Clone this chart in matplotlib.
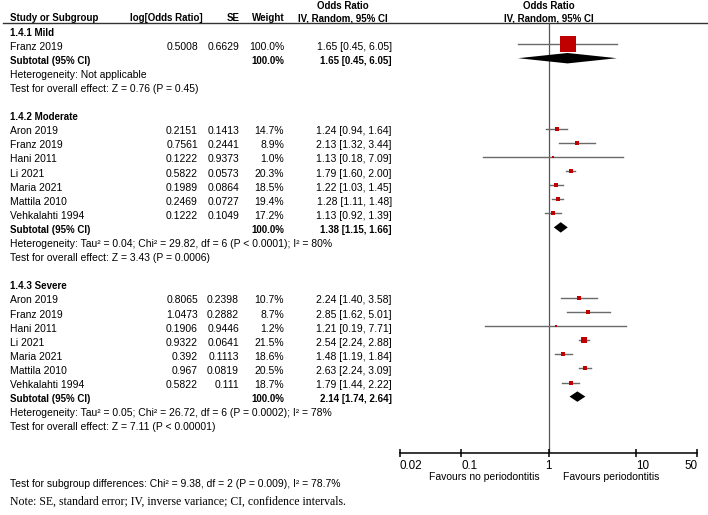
# =========================================================
#        FOREST PLOT - ODDS RATIO BY PERIODONTITIS STAGE
# =========================================================

import numpy as np
import matplotlib.pyplot as plt
from matplotlib.transforms import blended_transform_factory
from matplotlib.lines import Line2D

plt.rcParams["font.family"] = ["Liberation Sans", "DejaVu Sans"]

# =========================================================
# DATA
# =========================================================

group_titles = ["1.4.1 Mild", "1.4.2 Moderate", "1.4.3 Severe"]

mild_names = ["Franz 2019"]
mild_logor = ["0.5008"]
mild_se = ["0.6629"]
mild_weight = [100.0]
mild_or = [1.65]
mild_lo = [0.45]
mild_hi = [6.05]

moderate_names = ["Aron 2019", "Franz 2019", "Hani 2011", "Li 2021",
                  "Maria 2021", "Mattila 2010", "Vehkalahti 1994"]
moderate_logor = ["0.2151", "0.7561", "0.1222", "0.5822",
                  "0.1989", "0.2469", "0.1222"]
moderate_se = ["0.1413", "0.2441", "0.9373", "0.0573",
               "0.0864", "0.0727", "0.1049"]
moderate_weight = [14.7, 8.9, 1.0, 20.3, 18.5, 19.4, 17.2]
moderate_or = [1.24, 2.13, 1.13, 1.79, 1.22, 1.28, 1.13]
moderate_lo = [0.94, 1.32, 0.18, 1.60, 1.03, 1.11, 0.92]
moderate_hi = [1.64, 3.44, 7.09, 2.00, 1.45, 1.48, 1.39]

severe_names = ["Aron 2019", "Franz 2019", "Hani 2011", "Li 2021",
                "Maria 2021", "Mattila 2010", "Vehkalahti 1994"]
severe_logor = ["0.8065", "1.0473", "0.1906", "0.9322",
                "0.392", "0.967", "0.5822"]
severe_se = ["0.2398", "0.2882", "0.9446", "0.0641",
             "0.1113", "0.0819", "0.111"]
severe_weight = [10.7, 8.7, 1.2, 21.5, 18.6, 20.5, 18.7]
severe_or = [2.24, 2.85, 1.21, 2.54, 1.48, 2.63, 1.79]
severe_lo = [1.40, 1.62, 0.19, 2.24, 1.19, 2.24, 1.44]
severe_hi = [3.58, 5.01, 7.71, 2.88, 1.84, 3.09, 2.22]

# subtotal: OR, lower, upper
subtotal_or = [1.65, 1.38, 2.14]
subtotal_lo = [0.45, 1.15, 1.74]
subtotal_hi = [6.05, 1.66, 2.64]

heterogeneity = [
    "Heterogeneity: Not applicable",
    "Heterogeneity: Tau² = 0.04; Chi² = 29.82, df = 6 (P < 0.0001); I² = 80%",
    "Heterogeneity: Tau² = 0.05; Chi² = 26.72, df = 6 (P = 0.0002); I² = 78%",
]
overall = [
    "Test for overall effect: Z = 0.76 (P = 0.45)",
    "Test for overall effect: Z = 3.43 (P = 0.0006)",
    "Test for overall effect: Z = 7.11 (P < 0.00001)",
]

tick_values = [0.02, 0.1, 1, 10, 50]
tick_labels = ["0.02", "0.1", "1", "10", "50"]

subgroup_test = "Test for subgroup differences: Chi² = 9.38, df = 2 (P = 0.009), I² = 78.7%"
note = "Note: SE, standard error; IV, inverse variance; CI, confidence intervals."

# =========================================================
# LAYOUT
# =========================================================

W, H = 708, 515
ROW0 = 30.0       # pixel y of row 0
STEP = 14.1       # pixel per row
FS = 7.5
FS_B = 7.0
TXT = 0.18
RED = "#C00000"
GRAY = "#6a6a6a"

X_NAME = 10
X_LOGOR = 198
X_SE = 239
X_W = 284
X_CI = 392


def row_px(r):

    return ROW0 + STEP * r


fig = plt.figure(figsize=(W / 100, H / 100), dpi=100)

top_r, bot_r = -0.5, 30
ax = fig.add_axes([
    400 / W,
    1 - row_px(bot_r) / H,
    297 / W,
    (row_px(bot_r) - row_px(top_r)) / H,
])

ax.set_xscale("log")
ax.set_xlim(0.02, 50)
ax.set_ylim(bot_r, top_r)

tr = blended_transform_factory(fig.transFigure, ax.transData)


def put(xpx, r, s, ha="left", bold=False, **kw):

    ax.text(xpx / W, r + TXT, s, transform=tr, ha=ha, va="center",
            fontsize=FS_B if bold else FS,
            fontweight="bold" if bold else "normal",
            color="black", **kw)

# =========================================================
# HEADER
# =========================================================

put(X_NAME, -1, "Study or Subgroup", bold=True)
put(203, -1, "log[Odds Ratio]", ha="right", bold=True)
put(240, -1, "SE", ha="right", bold=True)
put(285, -1, "Weight", ha="right", bold=True)
put(343, -1, "IV, Random, 95% CI", ha="center", bold=True)
put(343, -1.85, "Odds Ratio", ha="center", bold=True)

ax.text(1, -1 + TXT, "IV, Random, 95% CI", ha="center", va="center",
        fontsize=FS_B, fontweight="bold")
ax.text(1, -1.85 + TXT, "Odds Ratio", ha="center", va="center",
        fontsize=FS_B, fontweight="bold")

y_line = 1 - row_px(top_r) / H
fig.add_artist(Line2D([3 / W, 707 / W], [y_line, y_line],
                      transform=fig.transFigure, color="#333333", lw=1.0))

# =========================================================
# GROUPS
# =========================================================

groups = [
    (mild_names, mild_logor, mild_se, mild_weight, mild_or, mild_lo, mild_hi),
    (moderate_names, moderate_logor, moderate_se, moderate_weight,
     moderate_or, moderate_lo, moderate_hi),
    (severe_names, severe_logor, severe_se, severe_weight,
     severe_or, severe_lo, severe_hi),
]
group_start = [0, 6, 18]

for g, (names, logor, se, wts, ors, los, his) in enumerate(groups):

    r = group_start[g]

    put(X_NAME, r, group_titles[g], bold=True)

    for i in range(len(names)):

        rr = r + 1 + i

        put(X_NAME, rr, names[i])
        put(X_LOGOR, rr, logor[i], ha="right")
        put(X_SE, rr, se[i], ha="right")
        put(X_W, rr, f"{wts[i]:.1f}%", ha="right")
        put(X_CI, rr, f"{ors[i]:.2f} [{los[i]:.2f}, {his[i]:.2f}]", ha="right")

        ax.plot([los[i], his[i]], [rr, rr], color=GRAY, lw=1.0, zorder=2)

        # square side in pixels grows with the weight
        side = 1.5 + 14.5 * (wts[i] / 100) ** 0.9
        ax.scatter([ors[i]], [rr], marker="s", s=(side * 0.72) ** 2,
                   color=RED, linewidths=0, zorder=3)

    rs = r + 1 + len(names)

    put(X_NAME, rs, "Subtotal (95% CI)", bold=True)
    put(X_W, rs, "100.0%", ha="right", bold=True)
    put(X_CI, rs, f"{subtotal_or[g]:.2f} [{subtotal_lo[g]:.2f}, {subtotal_hi[g]:.2f}]",
        ha="right", bold=True)

    h = 0.37
    ax.fill([subtotal_lo[g], subtotal_or[g], subtotal_hi[g], subtotal_or[g]],
            [rs, rs - h, rs, rs + h], color="black", lw=0, zorder=4)

    put(X_NAME, rs + 1, heterogeneity[g])
    put(X_NAME, rs + 2, overall[g])

# =========================================================
# AXIS
# =========================================================

ax.axvline(1, color="#555555", lw=0.9, zorder=1)

for side in ["top", "left", "right"]:
    ax.spines[side].set_visible(False)

ax.spines["bottom"].set_linewidth(1.1)
ax.set_yticks([])
ax.set_xticks(tick_values)
ax.set_xticklabels(tick_labels)
ax.xaxis.set_minor_locator(plt.NullLocator())
ax.tick_params(axis="x", direction="inout", length=6, width=1.1,
               labelsize=8.4, pad=2)

# RevMan style placement of the tick labels
tick_ha = ["left", "left", "center", "left", "right"]
for lab, ha in zip(ax.get_xticklabels(), tick_ha):
    lab.set_ha(ha)

put(540, 31.5, "Favours no periodontitis", ha="right")
put(563, 31.5, "Favours periodontitis")

put(X_NAME, 32, subgroup_test)

ax.text(X_NAME / W, 33.25 + TXT, note, transform=tr, ha="left", va="center",
        fontsize=8.5, family=["Liberation Serif", "DejaVu Serif"])

fig.savefig("out.png", dpi=100)
